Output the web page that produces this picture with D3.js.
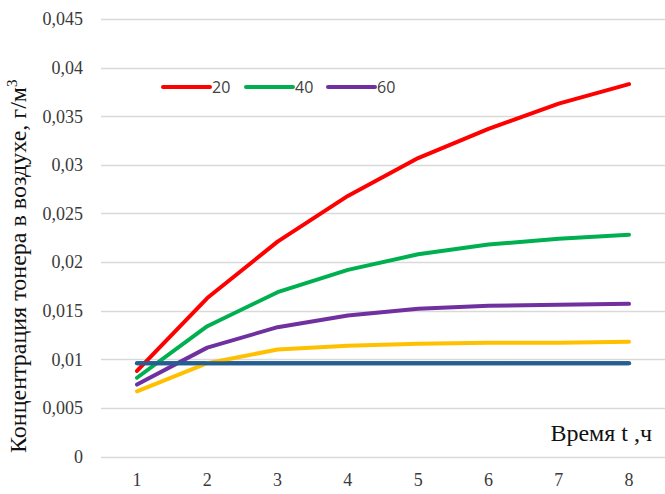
<!DOCTYPE html>
<html>
<head>
<meta charset="utf-8">
<script src="https://cdn.jsdelivr.net/npm/d3@7"></script>
<style>
  html, body { margin: 0; padding: 0; background: #fff; }
  svg { display: block; }
  .serif { font-family: "Liberation Serif", "DejaVu Serif", "Times New Roman", serif; }
  .sans { font-family: "Open Sans", "Liberation Sans", sans-serif; }
</style>
</head>
<body>
<svg id="chart" width="665" height="494"></svg>
<script>
// Time, hours
const hours = ["1", "2", "3", "4", "5", "6", "7", "8"];

// Toner concentration in air, g/m³
const series20 = [0.0088, 0.0163, 0.0221, 0.0268, 0.0307, 0.0337, 0.0363, 0.0383];
const series40 = [0.0081, 0.0134, 0.0169, 0.0192, 0.0208, 0.0218, 0.0224, 0.0228];
const series60 = [0.0074, 0.0112, 0.0133, 0.0145, 0.0152, 0.0155, 0.0156, 0.0157];
const seriesLow = [0.0067, 0.0096, 0.0110, 0.0114, 0.0116, 0.0117, 0.0117, 0.0118];
const seriesLimit = [0.0096, 0.0096, 0.0096, 0.0096, 0.0096, 0.0096, 0.0096, 0.0096];

const yTicks = [0, 0.005, 0.01, 0.015, 0.02, 0.025, 0.03, 0.035, 0.04, 0.045];

const legendNames = ["20", "40", "60"];

const colors = {
  s20: "#FF0000",
  s40: "#00B050",
  s60: "#7030A0",
  low: "#FFC000",
  limit: "#255E91"
};

const svg = d3.select("#chart");

const plot = { left: 101, right: 665, top: 19, bottom: 456.5 };

const x = d3.scalePoint()
  .domain(hours)
  .range([137, 629]);

const y = d3.scaleLinear()
  .domain([0, 0.045])
  .range([plot.bottom, plot.top]);

const fmt = v => v === 0 ? "0" : String(+v.toFixed(3)).replace(".", ",");

// Horizontal gridlines
svg.append("g")
  .selectAll("line")
  .data(yTicks)
  .join("line")
  .attr("x1", plot.left)
  .attr("x2", plot.right)
  .attr("y1", d => Math.round(y(d)) + 0.5)
  .attr("y2", d => Math.round(y(d)) + 0.5)
  .attr("stroke", "#D9D9D9")
  .attr("stroke-width", 1.3);

// Y tick labels
svg.append("g")
  .selectAll("text")
  .data(yTicks)
  .join("text")
  .attr("class", "serif")
  .attr("x", 83)
  .attr("y", d => y(d))
  .attr("dy", "0.35em")
  .attr("text-anchor", "end")
  .attr("font-size", 18)
  .attr("fill", "#3a3a3a")
  .text(d => fmt(d));

// X tick labels
svg.append("g")
  .selectAll("text")
  .data(hours)
  .join("text")
  .attr("class", "serif")
  .attr("x", d => x(d))
  .attr("y", 480)
  .attr("dy", "0.35em")
  .attr("text-anchor", "middle")
  .attr("font-size", 18)
  .attr("fill", "#3a3a3a")
  .text(d => d);

// Axis titles
svg.append("text")
  .attr("class", "serif")
  .attr("x", 652)
  .attr("y", 441)
  .attr("text-anchor", "end")
  .attr("font-size", 24)
  .attr("fill", "#111")
  .text("Время t ,ч");

const yTitle = svg.append("text")
  .attr("class", "serif")
  .attr("transform", "translate(26,453) rotate(-90)")
  .attr("text-anchor", "start")
  .attr("font-size", 24)
  .attr("fill", "#111");
yTitle.append("tspan").text("Концентрация тонера в воздухе, г/м");
yTitle.append("tspan").attr("font-size", 15).attr("dy", -9).text("3");

// Lines
const line = d3.line()
  .x((d, i) => x(hours[i]))
  .y(d => y(d));

const drawn = [
  { values: seriesLimit, color: colors.limit },
  { values: seriesLow, color: colors.low },
  { values: series60, color: colors.s60 },
  { values: series40, color: colors.s40 },
  { values: series20, color: colors.s20 },
  { values: seriesLimit, color: colors.limit }
];

svg.append("g")
  .selectAll("path")
  .data(drawn)
  .join("path")
  .attr("d", d => line(d.values))
  .attr("fill", "none")
  .attr("stroke", d => d.color)
  .attr("stroke-width", 4)
  .attr("stroke-linecap", "round")
  .attr("stroke-linejoin", "round");

// Legend
const legendColors = [colors.s20, colors.s40, colors.s60];
const legendX = [163, 246, 328];
const legend = svg.append("g")
  .selectAll("g")
  .data(legendNames)
  .join("g")
  .attr("transform", (d, i) => `translate(${legendX[i]},87)`);

legend.append("line")
  .attr("x1", 0)
  .attr("x2", 47)
  .attr("stroke", (d, i) => legendColors[i])
  .attr("stroke-width", 4)
  .attr("stroke-linecap", "round");

legend.append("text")
  .attr("class", "sans")
  .attr("x", 49)
  .attr("dy", "0.35em")
  .attr("font-size", 16)
  .attr("fill", "#404040")
  .text(d => d);
</script>
</body>
</html>
